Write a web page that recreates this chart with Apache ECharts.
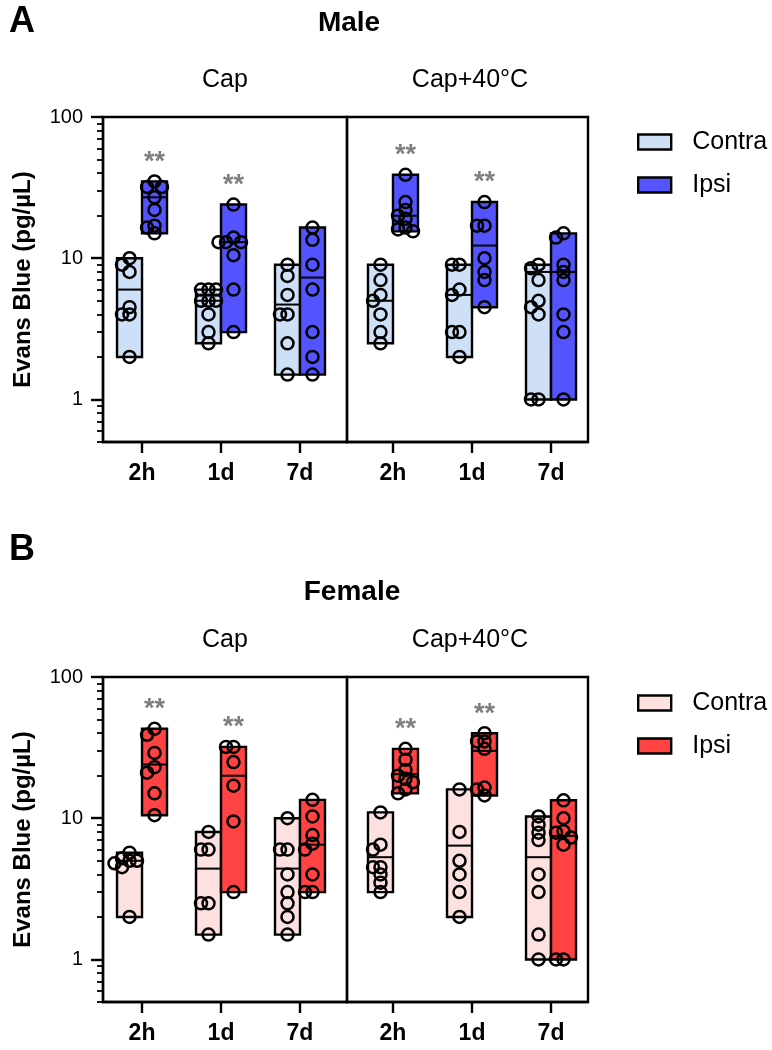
<!DOCTYPE html>
<html>
<head>
<meta charset="utf-8">
<script src="https://cdn.jsdelivr.net/npm/echarts@6/dist/echarts.min.js"></script>
<style>
  html, body { margin: 0; background: #fff; }
  #chart { width: 772px; height: 1050px; }
</style>
</head>
<body>
<div id="chart"></div>
<script>
// categories
const timePoints = ["2h", "1d", "7d"];
const treatments = ["Cap", "Cap+40°C"];
const yTickValues = [1, 10, 100];
const yMinorTicks = [0.5, 0.6, 0.7, 0.8, 0.9, 2, 3, 4, 5, 6, 7, 8, 9, 20, 30, 40, 50, 60, 70, 80, 90];
const stars = ["**", "**", ""];

// Male, Cap — one list of animals per time point
const maleCapContra = [[10, 9, 8, 4.5, 4, 4, 2], [6, 6, 6, 5, 5, 5, 4, 3, 2.5], [9, 7.5, 5.5, 4, 4, 2.5, 1.5]];
const maleCapIpsi = [[35, 32, 32, 27, 22, 17, 16.5, 15], [24, 14, 13, 13, 13, 10.5, 6, 3], [16.5, 13.5, 9, 6, 3, 2, 1.5]];
const maleCapContraMedian = [6, 5, 4.7];
const maleCapIpsiMedian = [27, 13, 7.3];

// Male, Cap+40°C
const maleHeatContra = [[9, 7, 5.5, 5, 4, 3, 2.5], [9, 9, 6, 5.5, 3, 3, 2], [9, 8.5, 7, 5, 4.5, 4, 1, 1]];
const maleHeatIpsi = [[39, 25, 22, 20, 19, 16.5, 16, 15.5], [25, 17, 17, 10, 8, 7, 4.5], [15, 14, 9, 8, 7, 4, 3, 1]];
const maleHeatContraMedian = [5, 5.5, 8];
const maleHeatIpsiMedian = [20, 12.3, 8];

// Female, Cap
const femaleCapContra = [[5.7, 5.2, 5, 5, 4.8, 4.5, 2], [8, 6, 6, 2.5, 2.5, 1.5], [10, 6, 6, 4, 3, 2.5, 2, 1.5]];
const femaleCapIpsi = [[43, 39, 29, 23, 21, 15, 10.5], [32, 32, 25, 17, 9.5, 3], [13.5, 10.3, 7.6, 6.6, 6, 4, 3, 3]];
const femaleCapContraMedian = [5, 4.4, 4.4];
const femaleCapIpsiMedian = [24, 20, 6.5];

// Female, Cap+40°C
const femaleHeatContra = [[11, 6.5, 6, 4.5, 4.5, 4, 3.5, 3], [16, 8, 5, 4, 3, 2], [10.3, 9, 7.9, 7, 4, 3, 1.5, 1]];
const femaleHeatIpsi = [[31, 26, 22, 20, 19, 18, 16, 15], [40, 35, 35, 31, 16.5, 16, 14.5], [13.4, 10, 8.1, 7.9, 7.3, 6.5, 1, 1]];
const femaleHeatContraMedian = [5.3, 6.4, 5.3];
const femaleHeatIpsiMedian = [20.5, 30, 7.5];

const maleColors = { contra: "#cde0f7", ipsi: "#5454ff" };
const femaleColors = { contra: "#fde0e0", ipsi: "#ff4242" };

const FONT = "Liberation Sans, Arial, sans-serif";
const BAR_W = 25;

function boxSeries(name, gridIdx, sets, medians, color, side, marks) {
  return {
    type: "custom",
    name: name,
    xAxisIndex: gridIdx,
    yAxisIndex: gridIdx * 2,
    itemStyle: { color: color },
    data: sets.map((pts, t) => [t, Math.min(...pts), Math.max(...pts), medians[t]]),
    encode: { x: 0, y: [1, 2, 3] },
    renderItem(params, api) {
      const t = api.value(0);
      const cx = api.coord([t, api.value(3)])[0];
      const top = api.coord([t, api.value(2)])[1];
      const bot = api.coord([t, api.value(1)])[1];
      const med = api.coord([t, api.value(3)])[1];
      const x0 = side < 0 ? cx - BAR_W : cx;
      const mid = x0 + BAR_W / 2;
      const children = [
        {
          type: "rect",
          shape: { x: x0, y: top, width: BAR_W, height: bot - top },
          style: { fill: color, stroke: "#000", lineWidth: 2.4 }
        },
        {
          type: "line",
          shape: { x1: x0, y1: med, x2: x0 + BAR_W, y2: med },
          style: { stroke: "#000", lineWidth: 2 }
        }
      ];
      // spread overlapping dots sideways, GraphPad style
      const placed = [];
      sets[params.dataIndex].forEach(v => {
        const py = api.coord([t, v])[1];
        let px = mid;
        for (const k of [0, -1, 1, -2, 2]) {
          const tryX = mid + k * 7.5;
          if (placed.every(p => Math.hypot(p[0] - tryX, p[1] - py) >= 7)) { px = tryX; break; }
        }
        placed.push([px, py]);
        children.push({
          type: "circle",
          z2: 10,
          shape: { cx: px, cy: py, r: 6 },
          style: { fill: "none", stroke: "#000", lineWidth: 2.5 }
        });
      });
      if (marks && marks[params.dataIndex]) {
        children.push({
          type: "text",
          z2: 10,
          style: {
            x: mid, y: top - 19, text: marks[params.dataIndex],
            fill: "#7f7f7f", font: "bold 27px " + FONT,
            textAlign: "center", textVerticalAlign: "middle"
          }
        });
      }
      return { type: "group", children: children };
    }
  };
}

const panelTops = [117, 677];
const grids = [];
const xAxes = [];
const yAxes = [];
panelTops.forEach(top => {
  grids.push({ left: 103, top: top, width: 244, height: 325, show: true, borderColor: "#000", borderWidth: 2.4 });
  grids.push({ left: 347, top: top, width: 241, height: 325, show: true, borderColor: "#000", borderWidth: 2.4 });
});

grids.forEach((g, i) => {
  const isLeft = i % 2 === 0;
  xAxes.push({
    type: "value",
    gridIndex: i,
    min: isLeft ? -0.494 : -0.582,
    max: isLeft ? 2.595 : 2.468,
    splitLine: { show: false },
    axisLine: { onZero: false, lineStyle: { color: "#000", width: 2.4 } },
    axisTick: { customValues: [0, 1, 2], length: 11, lineStyle: { color: "#000", width: 2.4 } },
    axisLabel: {
      customValues: [0, 1, 2],
      formatter: v => timePoints[Math.round(v)],
      color: "#000", fontFamily: FONT, fontSize: 23, fontWeight: "bold", margin: 20
    }
  });
  const base = {
    type: "log",
    logBase: 10,
    gridIndex: i,
    min: 0.5,
    max: 100,
    position: "left",
    splitLine: { show: false }
  };
  yAxes.push(Object.assign({}, base, {
    show: isLeft,
    name: isLeft ? "Evans Blue (pg/µL)" : "",
    nameLocation: "middle",
    nameGap: 68,
    nameTextStyle: { color: "#000", fontFamily: FONT, fontSize: 24, fontWeight: "bold" },
    axisLine: { show: true, onZero: false, lineStyle: { color: "#000", width: 2.4 } },
    axisTick: { customValues: yTickValues, length: 12, lineStyle: { color: "#000", width: 2.4 } },
    axisLabel: { customValues: yTickValues, color: "#000", fontFamily: FONT, fontSize: 20, margin: 20 }
  }));
  yAxes.push(Object.assign({}, base, {
    show: isLeft,
    axisLine: { show: false, onZero: false },
    axisTick: { customValues: yMinorTicks, length: 6, lineStyle: { color: "#000", width: 1.8 } },
    axisLabel: { show: false }
  }));
});

const series = [
  boxSeries("Contra", 0, maleCapContra, maleCapContraMedian, maleColors.contra, -1, null),
  boxSeries("Ipsi", 0, maleCapIpsi, maleCapIpsiMedian, maleColors.ipsi, 1, stars),
  boxSeries("Contra", 1, maleHeatContra, maleHeatContraMedian, maleColors.contra, -1, null),
  boxSeries("Ipsi", 1, maleHeatIpsi, maleHeatIpsiMedian, maleColors.ipsi, 1, stars),
  boxSeries("Contra", 2, femaleCapContra, femaleCapContraMedian, femaleColors.contra, -1, null),
  boxSeries("Ipsi", 2, femaleCapIpsi, femaleCapIpsiMedian, femaleColors.ipsi, 1, stars),
  boxSeries("Contra", 3, femaleHeatContra, femaleHeatContraMedian, femaleColors.contra, -1, null),
  boxSeries("Ipsi", 3, femaleHeatIpsi, femaleHeatIpsiMedian, femaleColors.ipsi, 1, stars)
];

function legendFor(top, colors) {
  return {
    orient: "vertical",
    left: 632,
    top: top,
    icon: "rect",
    itemWidth: 33,
    itemHeight: 15,
    itemGap: 15,
    selectedMode: false,
    textStyle: { color: "#000", fontFamily: FONT, fontSize: 25, lineHeight: 28, padding: [0, 0, 0, 16] },
    data: [
      { name: "Contra", itemStyle: { color: colors.contra, borderColor: "#000", borderWidth: 2.4 } },
      { name: "Ipsi", itemStyle: { color: colors.ipsi, borderColor: "#000", borderWidth: 2.4 } }
    ]
  };
}

function label(text, x, y, size, weight) {
  return {
    type: "text", x: x, y: y,
    style: { text: text, fill: "#000", font: weight + " " + size + "px " + FONT, textAlign: "center", textVerticalAlign: "middle" }
  };
}

const chart = echarts.init(document.getElementById("chart"));
chart.setOption({
  animation: false,
  backgroundColor: "#fff",
  grid: grids,
  xAxis: xAxes,
  yAxis: yAxes,
  legend: [legendFor(123, maleColors), legendFor(684, femaleColors)],
  graphic: [
    label("A", 22, 22, 36, "bold"),
    label("Male", 349, 23, 28, "bold"),
    label(treatments[0], 225, 80, 25, "normal"),
    label(treatments[1], 470, 80, 25, "normal"),
    label("B", 22, 550, 36, "bold"),
    label("Female", 352, 592, 28, "bold"),
    label(treatments[0], 225, 640, 25, "normal"),
    label(treatments[1], 470, 640, 25, "normal")
  ],
  series: series
});
</script>
</body>
</html>
